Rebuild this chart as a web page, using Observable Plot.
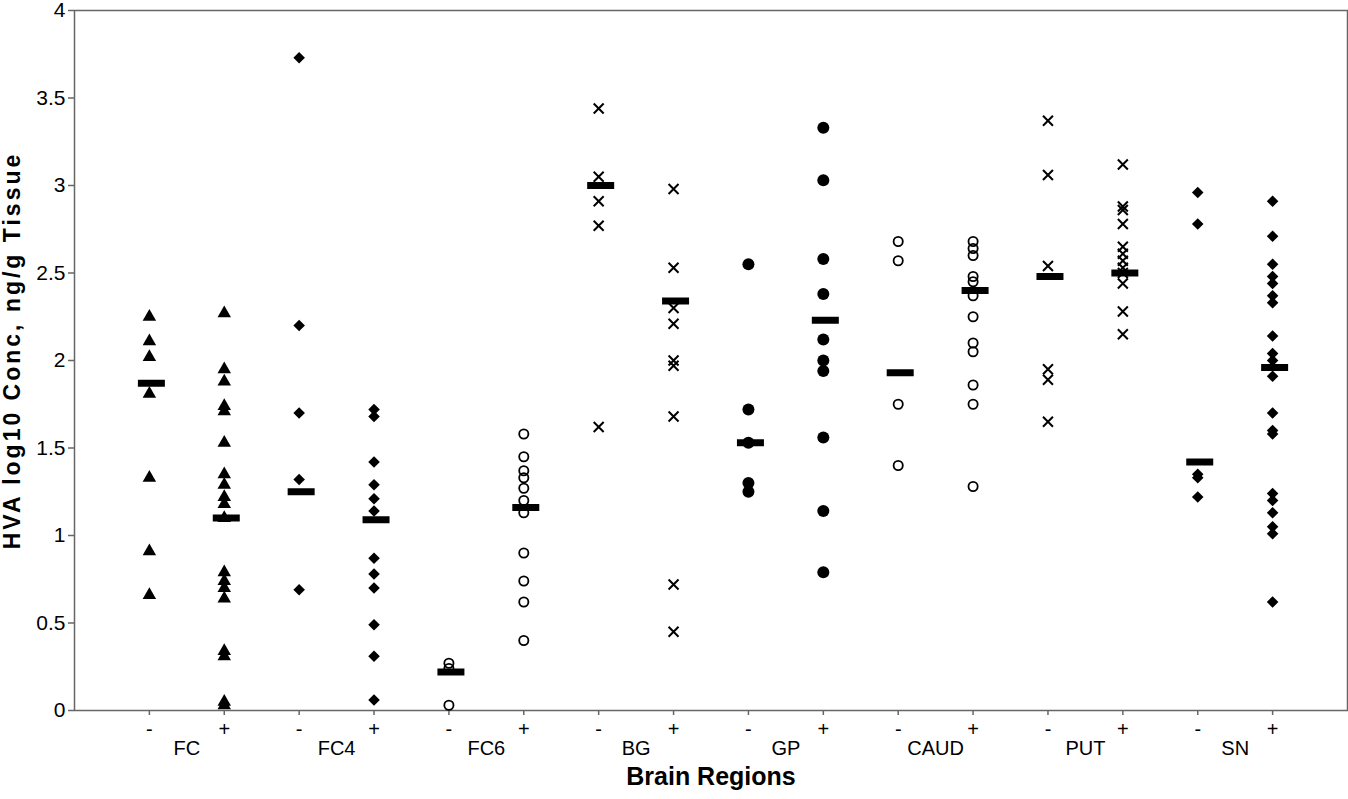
<!DOCTYPE html>
<html><head><meta charset="utf-8">
<script src="https://cdn.jsdelivr.net/npm/d3@7"></script>
<script src="https://cdn.jsdelivr.net/npm/@observablehq/plot@0.6"></script>
<style>
body{margin:0;background:#fff;}
#chart svg{display:block;}
</style>
</head><body><div id="chart"></div>
<script>
// Categories
const regions = ["FC", "FC4", "FC6", "BG", "GP", "CAUD", "PUT", "SN"];
const treatments = ["-", "+"];
const yTicks = [0, 0.5, 1, 1.5, 2, 2.5, 3, 3.5, 4];
const yTickLabels = ["0", "0.5", "1", "1.5", "2", "2.5", "3", "3.5", "4"];

// Individual values (HVA log10 conc, ng/g tissue)
const fcMinus   = [2.25, 2.11, 2.02, 1.81, 1.33, 0.91, 0.66];
const fcPlus    = [2.27, 1.95, 1.88, 1.74, 1.71, 1.53, 1.35, 1.29, 1.22, 1.18, 1.10, 0.79, 0.74, 0.70, 0.64, 0.34, 0.31, 0.05, 0.03];
const fc4Minus  = [3.73, 2.20, 1.70, 1.32, 0.69];
const fc4Plus   = [1.72, 1.68, 1.42, 1.29, 1.21, 1.14, 0.87, 0.78, 0.70, 0.49, 0.31, 0.06];
const fc6Minus  = [0.27, 0.24, 0.03];
const fc6Plus   = [1.58, 1.45, 1.37, 1.33, 1.27, 1.20, 1.13, 0.90, 0.74, 0.62, 0.40];
const bgMinus   = [3.44, 3.05, 2.91, 2.77, 1.62];
const bgPlus    = [2.98, 2.53, 2.30, 2.21, 2.00, 1.97, 1.68, 0.72, 0.45];
const gpMinus   = [2.55, 1.72, 1.53, 1.30, 1.25];
const gpPlus    = [3.33, 3.03, 2.58, 2.38, 2.12, 2.00, 1.94, 1.56, 1.14, 0.79];
const caudMinus = [2.68, 2.57, 1.75, 1.40];
const caudPlus  = [2.68, 2.64, 2.60, 2.48, 2.45, 2.37, 2.25, 2.10, 2.05, 1.86, 1.75, 1.28];
const putMinus  = [3.37, 3.06, 2.54, 1.95, 1.89, 1.65];
const putPlus   = [3.12, 2.88, 2.86, 2.78, 2.65, 2.61, 2.57, 2.53, 2.50, 2.44, 2.28, 2.15];
const snMinus   = [2.96, 2.78, 1.35, 1.33, 1.22];
const snPlus    = [2.91, 2.71, 2.55, 2.48, 2.44, 2.37, 2.33, 2.14, 2.04, 2.00, 1.91, 1.70, 1.60, 1.58, 1.24, 1.20, 1.13, 1.05, 1.01, 0.62];

// Group means (bars), order: FC-, FC+, FC4-, FC4+, ...
const groupMeans = [1.87, 1.10, 1.25, 1.09, 0.22, 1.16, 3.00, 2.34, 1.53, 2.23, 1.93, 2.40, 2.48, 2.50, 1.42, 1.96];

const groups = [
  [fcMinus, fcPlus], [fc4Minus, fc4Plus], [fc6Minus, fc6Plus], [bgMinus, bgPlus],
  [gpMinus, gpPlus], [caudMinus, caudPlus], [putMinus, putPlus], [snMinus, snPlus]
];

const rows = [];
groups.forEach((pair, i) => {
  pair.forEach((vals, j) => {
    vals.forEach(v => rows.push({region: regions[i], pos: 2 * i + j + 1, value: v}));
  });
});
const meanRows = groupMeans.map((v, k) => ({pos: k + 1, value: v}));
const positions = groupMeans.map((v, k) => k + 1);

const markerOf = {FC: "triangle", FC4: "diamond", FC6: "open", BG: "times", GP: "dot", CAUD: "open", PUT: "times", SN: "diamond"};
const pick = m => rows.filter(d => markerOf[d.region] === m);

const barSymbol = {draw(ctx) { ctx.rect(-13.5, -3.5, 27, 7); }};

const chart = Plot.plot({
  width: 1348,
  height: 799,
  marginLeft: 74,
  marginRight: 1,
  marginTop: 10,
  marginBottom: 89,
  style: {background: "white", color: "black", fontFamily: "'Liberation Sans', Arial, sans-serif"},
  x: {type: "linear", domain: [0, 17]},
  y: {domain: [0, 4]},
  marks: [
    Plot.frame({stroke: "#666", strokeWidth: 1.5}),
    Plot.axisY({ticks: yTicks, tickFormat: d => yTickLabels[yTicks.indexOf(d)], tickSize: 6, tickPadding: 3,
      fontSize: 21, stroke: "#666", strokeWidth: 1.5, fill: "black", label: null}),
    Plot.axisX({ticks: positions, tickFormat: d => treatments[(d - 1) % 2], tickSize: 5, tickPadding: 6,
      fontSize: 20, stroke: "#666", strokeWidth: 1.5, fill: "black", label: null}),
    Plot.text(regions, {x: (d, i) => 2 * i + 1.5, frameAnchor: "bottom", dy: 44, fontSize: 20, fill: "black"}),
    Plot.text(["Brain Regions"], {frameAnchor: "bottom", dy: 74, fontSize: 25, fontWeight: "bold", fill: "black"}),
    Plot.text(["HVA log10 Conc, ng/g Tissue"], {frameAnchor: "left", textAnchor: "middle", dx: -62, dy: -10, rotate: -90, fontSize: 23, fontWeight: "bold", fill: "black"}),
    Plot.dot(pick("triangle"), {x: "pos", y: "value", symbol: "triangle", r: 5, fill: "black"}),
    Plot.dot(pick("diamond"), {x: "pos", y: "value", symbol: "diamond2", r: 5.2, fill: "black"}),
    Plot.dot(pick("open"), {x: "pos", y: "value", symbol: "circle", r: 4.6, fill: "none", stroke: "black", strokeWidth: 1.8}),
    Plot.dot(pick("times"), {x: "pos", y: "value", symbol: "times", r: 4.6, fill: "none", stroke: "black", strokeWidth: 2}),
    Plot.dot(pick("dot"), {x: "pos", y: "value", symbol: "circle", r: 6, fill: "black"}),
    Plot.dot(meanRows, {x: "pos", y: "value", symbol: barSymbol, fill: "black", dx: 2})
  ]
});
d3.select(chart).selectAll("text").filter(function() { return this.textContent === "HVA log10 Conc, ng/g Tissue"; })
  .style("letter-spacing", "3px");
document.getElementById("chart").appendChild(chart);
</script>
</body></html>
